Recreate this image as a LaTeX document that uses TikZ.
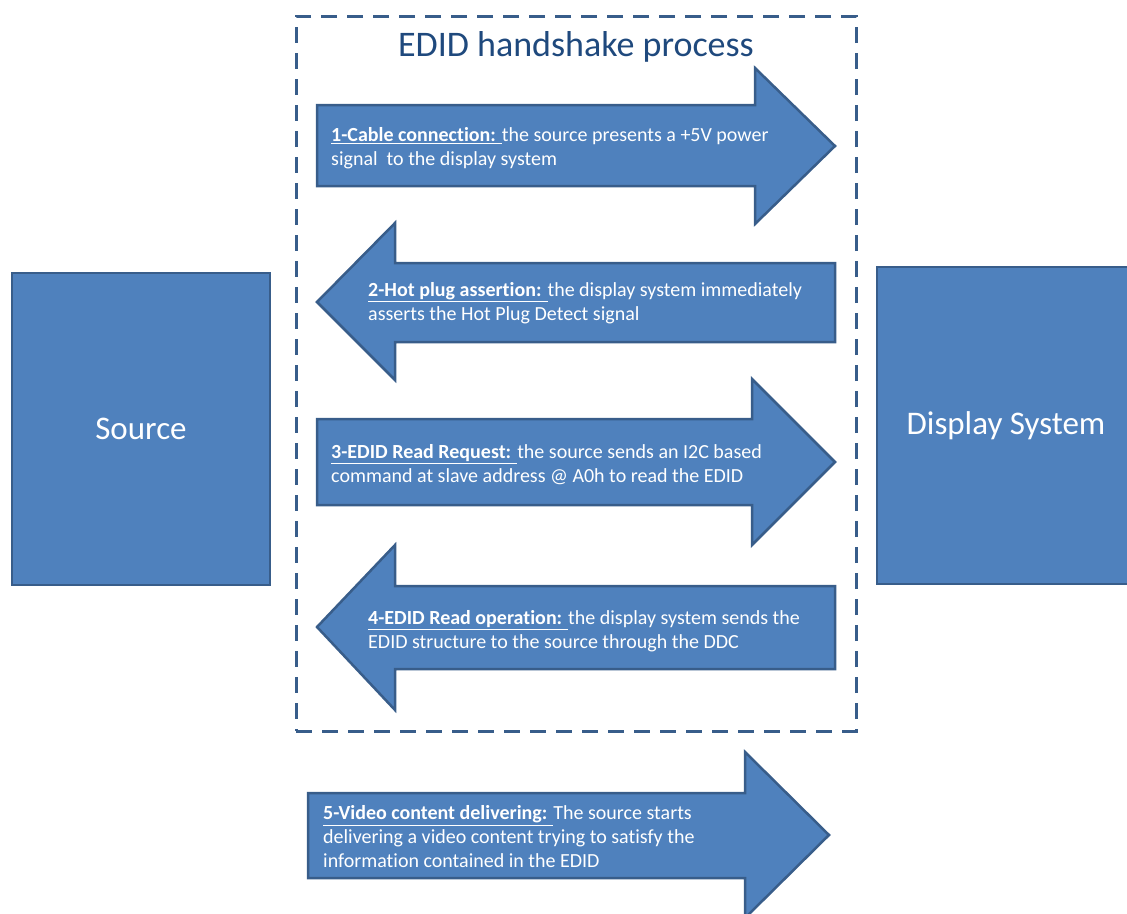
\documentclass[tikz,border=0pt]{standalone}
\usepackage{fontspec}
\setmainfont{Carlito}[Ligatures=NoCommon]
\definecolor{fillb}{HTML}{4F81BD}
\definecolor{edgeb}{HTML}{385D8A}
\definecolor{titleb}{HTML}{1F497D}
\begin{document}
\begin{tikzpicture}[x=1pt,y=-1pt,
  blockfill/.style={fill=fillb, draw=edgeb, line width=2.5pt, line join=miter},
  sidebox/.style={blockfill, inner sep=0pt, text=white, font=\fontsize{33}{40}\selectfont},
  arrtext/.style={anchor=west, inner sep=0pt, align=left, text=white, font=\fontsize{20}{24}\selectfont},
  frame/.style={draw=edgeb, line width=3pt, dash pattern=on 16pt off 10pt, inner sep=0pt}]
\useasboundingbox (0,0) rectangle (1127,913);
% dashed frame
\node[frame, minimum width=560pt, minimum height=715pt] (frm) at (576,373.5) {};
\node[text=titleb, font=\fontsize{36}{42}\selectfont, inner sep=0pt] (title) at (576,47) {EDID handshake process};
% side boxes
\node[sidebox, minimum width=258pt, minimum height=312pt] (src) at (141,429) {Source};
\node[sidebox, minimum width=258pt, minimum height=317pt] (disp) at (1006,425.5) {Display System};
% arrow 1 (right)
\draw[blockfill] (317,105) -- (755,105) -- (755,68) -- (835,146) -- (755,224) -- (755,186) -- (317,186) -- cycle;
\node[arrtext] (t1) at (331,148) {\underline{\textbf{1-Cable connection: }}the source presents a +5V power\\signal\ \ to the display system};
% arrow 2 (left)
\draw[blockfill] (835,263) -- (395,263) -- (395,223) -- (317,302) -- (395,380) -- (395,342) -- (835,342) -- cycle;
\node[arrtext] (t2) at (368,303) {\underline{\textbf{2-Hot plug assertion: }}the display system immediately\\asserts the Hot Plug Detect signal};
% arrow 3 (right)
\draw[blockfill] (317,419) -- (752,419) -- (752,379) -- (835,462) -- (752,545) -- (752,505) -- (317,505) -- cycle;
\node[arrtext] (t3) at (331,465) {\underline{\textbf{3-EDID Read Request: }}the source sends an I2C based\\command at slave address @ A0h to read the EDID};
% arrow 4 (left)
\draw[blockfill] (835,586) -- (395,586) -- (395,545) -- (317,627) -- (395,710) -- (395,669) -- (835,669) -- cycle;
\node[arrtext] (t4) at (368,631) {\underline{\textbf{4-EDID Read operation: }}the display system sends the\\EDID structure to the source through the DDC};
% arrow 5 (right)
\draw[blockfill] (308,793) -- (745,793) -- (745,752) -- (829,835) -- (745,918) -- (745,878) -- (308,878) -- cycle;
\node[arrtext] (t5) at (323,837) {\underline{\textbf{5-Video content delivering: }}The source starts\\delivering a video content trying to satisfy the\\information contained in the EDID};
\end{tikzpicture}
\end{document}
